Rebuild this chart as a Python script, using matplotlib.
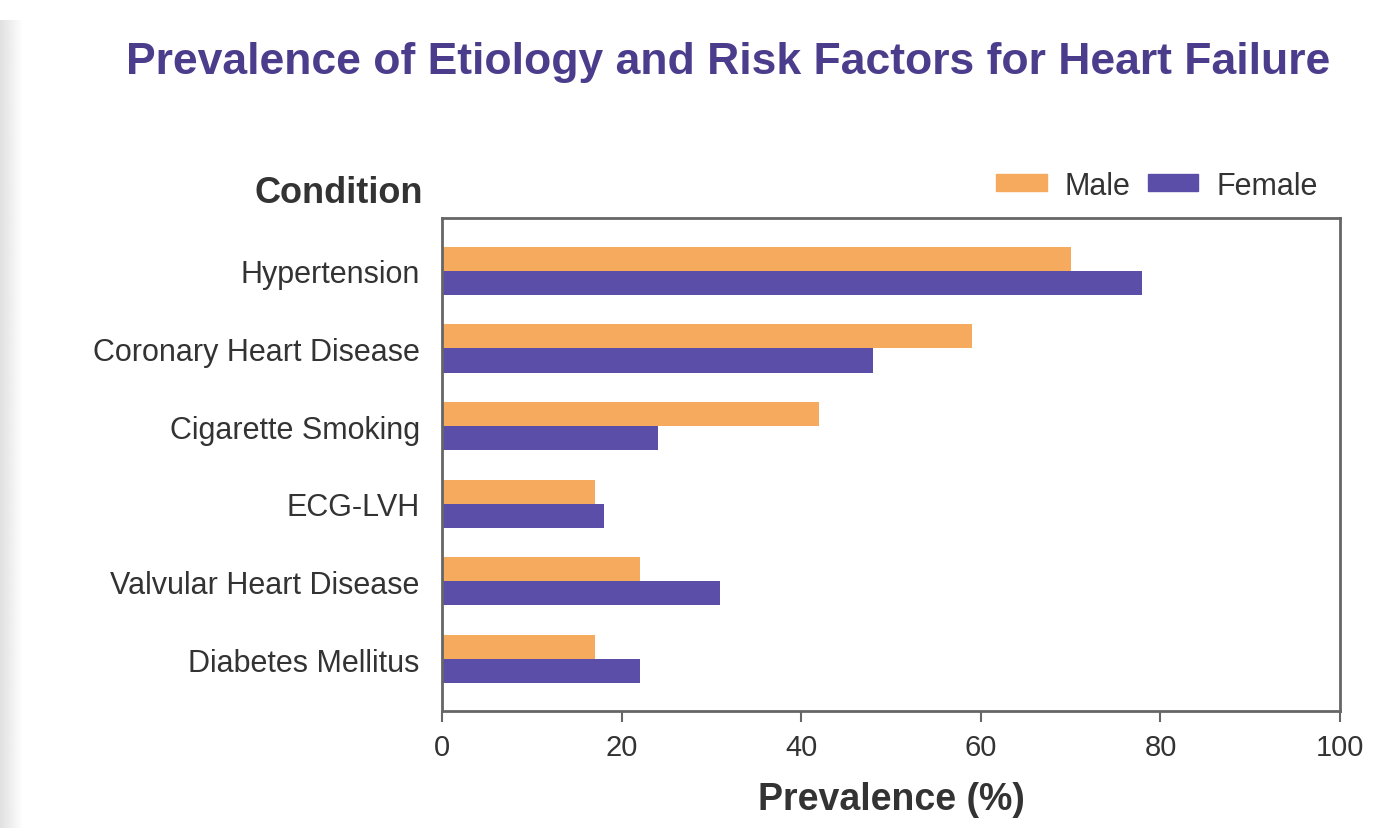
import numpy as np
import matplotlib.pyplot as plt
from matplotlib.patches import Patch

# Prevalence (%) by condition
conditions = ["Hypertension", "Coronary Heart Disease", "Cigarette Smoking",
              "ECG-LVH", "Valvular Heart Disease", "Diabetes Mellitus"]
male = [70, 59, 42, 17, 22, 17]
female = [78, 48, 24, 18, 31, 22]
xticks = [0, 20, 40, 60, 80, 100]

male_color = "#f5aa5e"
female_color = "#5a4ea8"
title_color = "#4b3d8c"
text_color = "#333333"

plt.rcParams['font.family'] = ['Liberation Sans', 'DejaVu Sans']

fig = plt.figure(figsize=(13.93, 8.29), dpi=100)

# faint grey shading down the left edge of the page
edge = fig.add_axes([0, 0, 0.016, 0.975])
edge.imshow(np.linspace(0.88, 1.0, 50)[None, :], cmap='gray', vmin=0, vmax=1,
            aspect='auto', extent=[0, 1, 0, 1])
edge.axis('off')

ax = fig.add_axes([0.3173, 0.1411, 0.6447, 0.5947])

y = np.arange(len(conditions))
h = 0.31
ax.barh(y - h / 2, male, height=h, color=male_color, label="Male")
ax.barh(y + h / 2, female, height=h, color=female_color, label="Female")

ax.set_xlim(0, 100)
ax.set_ylim(len(conditions) - 1 + 0.67, -0.68)
ax.set_xticks(xticks)
ax.set_xticklabels([str(t) for t in xticks], fontsize=21, color=text_color)
ax.set_yticks(y)
ax.set_yticklabels(conditions, fontsize=22, color=text_color)
ax.tick_params(axis='y', length=0, pad=16)
ax.tick_params(axis='x', length=8, width=1.5, color="#666666", pad=8)
for s in ax.spines.values():
    s.set_color("#666666")
    s.set_linewidth(2)

ax.set_xlabel("Prevalence (%)", fontsize=27, fontweight='bold', color=text_color, labelpad=14)

fig.text(0.3035, 0.767, "Condition", fontsize=26, fontweight='bold', color=text_color,
         ha='right', va='center')
fig.text(0.523, 0.925, "Prevalence of Etiology and Risk Factors for Heart Failure",
         fontsize=32, fontweight='bold', color=title_color, ha='center', va='center')

handles = [Patch(color=male_color, label="Male"), Patch(color=female_color, label="Female")]
fig.legend(handles=handles, loc='center right', bbox_to_anchor=(0.946, 0.775), ncol=2,
           frameon=False, fontsize=22, handlelength=1.65, handleheight=0.45,
           columnspacing=0.55, handletextpad=0.6, borderpad=0, borderaxespad=0,
           labelcolor=text_color)

fig.savefig("out.png", dpi=100)
